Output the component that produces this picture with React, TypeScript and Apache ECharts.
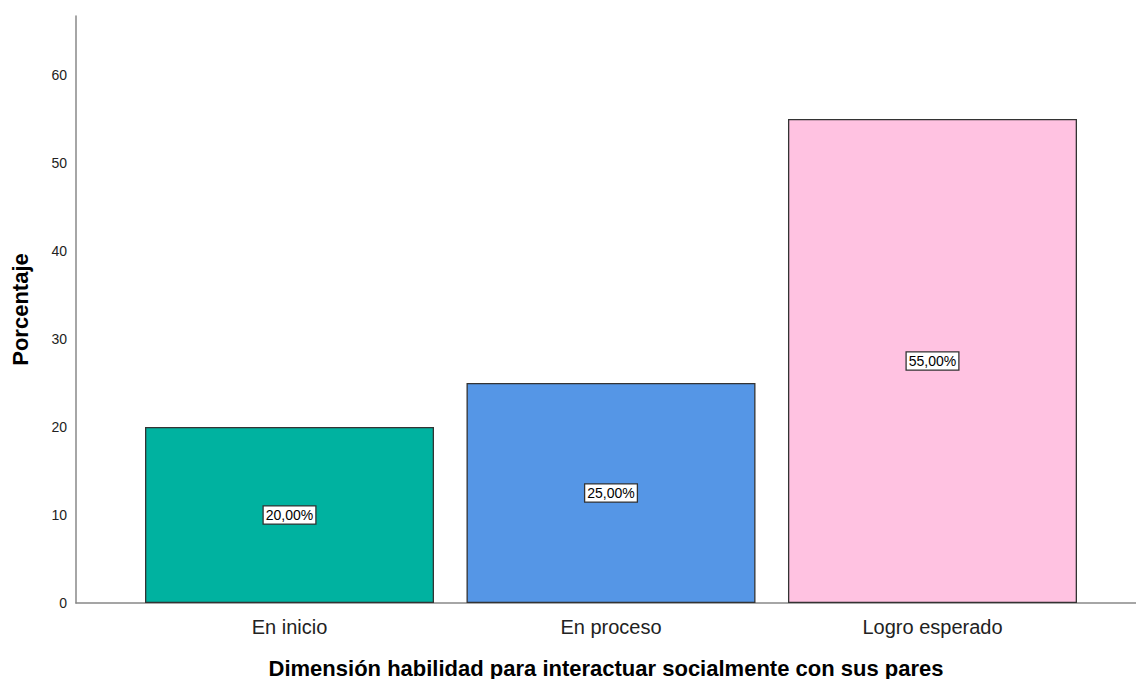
import React, { useEffect, useRef } from "react";
import * as echarts from "echarts";

const categories = ["En inicio", "En proceso", "Logro esperado"];
const values = [20, 25, 55];
const colors = ["#00b2a0", "#5596e6", "#ffc2e1"];
const yTicks = [0, 10, 20, 30, 40, 50, 60];

export default function App() {
  const ref = useRef<HTMLDivElement>(null);
  useEffect(() => {
    if (!ref.current) return;
    const chart = echarts.init(ref.current, null, { renderer: "svg" });
    const font = "'Liberation Sans', Arial, sans-serif";
    chart.setOption({
      animation: false,
      textStyle: { fontFamily: font },
      grid: {
        left: 76,
        top: 16,
        right: 0,
        height: 587,
        containLabel: false,
        outerBoundsMode: "none",
      },
      xAxis: {
        type: "value",
        min: 0.3359,
        max: 3.633,
        splitLine: { show: false },
        axisLine: { show: true, onZero: false, lineStyle: { color: "#888", width: 1.5 } },
        axisTick: { show: false },
        axisLabel: {
          customValues: [1, 2, 3],
          formatter: (v: number) => categories[Math.round(v) - 1] ?? "",
          fontSize: 20,
          color: "#222",
          margin: 14,
          fontFamily: font,
        },
        name: "Dimensión habilidad para interactuar socialmente con sus pares",
        nameLocation: "middle",
        nameGap: 54,
        nameTextStyle: { fontSize: 22, fontWeight: "bold", color: "#000", fontFamily: font },
      },
      yAxis: {
        type: "value",
        min: 0,
        max: 66.7,
        interval: 10,
        splitLine: { show: false },
        axisLine: { show: true, lineStyle: { color: "#888", width: 1.5 } },
        axisTick: { show: false },
        axisLabel: {
          formatter: (v: number) => (yTicks.includes(v) ? String(v) : ""),
          fontSize: 14,
          color: "#222",
          margin: 9,
          fontFamily: font,
        },
        name: "Porcentaje",
        nameLocation: "middle",
        nameGap: 45,
        nameTextStyle: { fontSize: 22, fontWeight: "bold", color: "#000", fontFamily: font },
      },
      series: [
        {
          type: "bar",
          barWidth: 289,
          data: values.map((v, i) => ({
            value: [i + 1, v],
            itemStyle: { color: colors[i], borderColor: "#333", borderWidth: 1.3 },
          })),
          label: {
            show: true,
            position: "inside",
            formatter: (p: any) => p.value[1].toFixed(2).replace(".", ",") + "%",
            backgroundColor: "#fff",
            borderColor: "#333",
            borderWidth: 1.3,
            padding: [2, 2, 1, 2],
            fontSize: 14,
            color: "#000",
            fontFamily: font,
          },
        },
      ],
    });
    return () => chart.dispose();
  }, []);
  return (
    <div
      ref={ref}
      style={{ position: "fixed", left: 0, top: 0, width: 1136, height: 679, background: "#fff" }}
    />
  );
}
